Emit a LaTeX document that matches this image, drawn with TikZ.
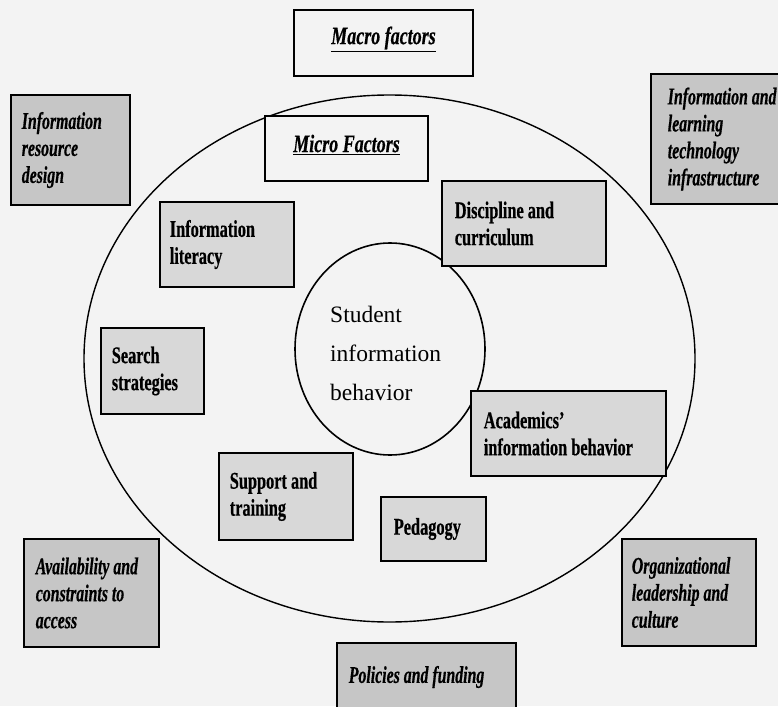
\documentclass[tikz,border=0pt]{standalone}
\usepackage{fontspec}
\setmainfont{Liberation Serif}
\newfontfamily\boldcond[FakeStretch=0.68,FakeBold=0.5]{Liberation Serif}
\newfontfamily\italcond[FakeStretch=0.66,FakeBold=0.5]{Liberation Serif}
\newfontfamily\headcond[FakeStretch=0.72,FakeBold=0.5]{Liberation Serif}
\usetikzlibrary{shapes.geometric}
\definecolor{pagebg}{HTML}{F3F3F3}
\definecolor{macrogrey}{HTML}{C6C6C6}
\definecolor{microgrey}{HTML}{D8D8D8}

\begin{document}
\begin{tikzpicture}[x=1pt,y=-1pt,
  frame/.style={draw=black, line width=2.8pt, inner sep=0pt},
  macrobox/.style={frame, fill=macrogrey},
  microbox/.style={frame, fill=microgrey},
  plainbox/.style={frame, fill=pagebg},
  ring/.style={draw=black, ellipse, inner sep=0pt},
  microtext/.style={anchor=west, inner sep=0pt, align=left,
    font=\boldcond\fontsize{24}{27}\selectfont\bfseries},
  macrotext/.style={anchor=west, inner sep=0pt, align=left,
    font=\italcond\fontsize{24}{27}\selectfont\bfseries\itshape},
  headtext/.style={inner sep=0pt,
    font=\headcond\fontsize{25}{27}\selectfont\bfseries\itshape},
]
% page
\fill[pagebg] (0,0) rectangle (778,706);
\useasboundingbox (0,0) rectangle (778,706);

% the two rings
\node[ring, line width=1.4pt, minimum width=611pt, minimum height=527pt] (outer) at (389.5,358.5) {};
\node[ring, line width=1.6pt, fill=pagebg, minimum width=190pt, minimum height=212pt] (core) at (390,349) {};
\node[anchor=west, inner sep=0pt, align=left, font=\fontsize{23.5}{39}\selectfont] (coreT) at (330,353)
  {Student\\information\\behavior};

% macro factors (outside the ring)
\node[plainbox, minimum width=179pt, minimum height=66pt] (macro) at (383.5,43) {};
\node[headtext] (macroT) at ([yshift=4pt]macro.center) {\underline{Macro factors}};

\node[macrobox, minimum width=119pt, minimum height=110pt] (resdesign) at (70.5,150) {};
\node[macrotext] (resdesignT) at ([xshift=12pt]resdesign.west) {Information\\resource\\design};

\node[macrobox, minimum width=140pt, minimum height=130pt] (infra) at (721,139) {};
\node[macrotext] (infraT) at ([xshift=18pt]infra.west) {Information and\\learning\\technology\\infrastructure};

\node[macrobox, minimum width=135pt, minimum height=108pt] (access) at (91.5,593) {};
\node[macrotext] (accessT) at ([xshift=13pt]access.west) {Availability and\\constraints to\\access};

\node[macrobox, minimum width=134pt, minimum height=107pt] (leader) at (689,592.5) {};
\node[macrotext] (leaderT) at ([xshift=11pt]leader.west) {Organizational\\leadership and\\culture};

\node[macrobox, minimum width=179pt, minimum height=68pt] (policy) at (426.5,677) {};
\node[macrotext] (policyT) at ([xshift=13pt]policy.west) {Policies and funding};

% micro factors (inside the ring)
\node[plainbox, minimum width=163pt, minimum height=65pt] (micro) at (346.5,148.5) {};
\node[headtext] (microT) at ([yshift=4pt]micro.center) {\underline{Micro Factors}};

\node[microbox, minimum width=134pt, minimum height=85pt] (literacy) at (227,244.5) {};
\node[microtext] (literacyT) at ([xshift=11pt]literacy.west) {Information\\literacy};

\node[microbox, minimum width=164pt, minimum height=85pt] (discipline) at (524,223.5) {};
\node[microtext] (disciplineT) at ([xshift=14pt]discipline.west) {Discipline and\\curriculum};

\node[microbox, minimum width=103pt, minimum height=86pt] (search) at (152.5,371) {};
\node[microtext] (searchT) at ([xshift=12pt]search.west) {Search\\strategies};

\node[microbox, minimum width=195pt, minimum height=85pt] (academics) at (568.5,433.5) {};
\node[microtext] (academicsT) at ([xshift=14pt]academics.west) {Academics’\\information behavior};

\node[microbox, minimum width=134pt, minimum height=87pt] (support) at (286,496.5) {};
\node[microtext] (supportT) at ([xshift=12pt]support.west) {Support and\\training};

\node[microbox, minimum width=105pt, minimum height=64pt] (pedagogy) at (433.5,529) {};
\node[microtext] (pedagogyT) at ([xshift=14pt]pedagogy.west) {Pedagogy};
\end{tikzpicture}
\end{document}
